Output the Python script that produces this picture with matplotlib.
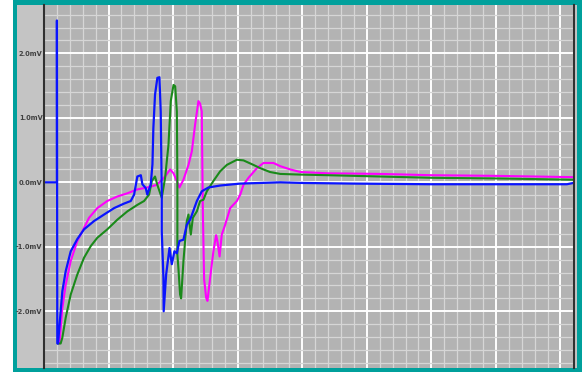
import numpy as np
from matplotlib import pyplot as plt
from matplotlib.patches import Rectangle
from matplotlib.ticker import MultipleLocator, FixedLocator

# time in grid divisions, voltage in mV
blue_x = [0, 1.0, 1.0, 1.03, 1.09, 1.29, 1.42, 1.68, 2.07, 2.58, 3.10, 3.88, 4.65, 5.43, 6.20,
          6.72, 6.98, 7.23, 7.50, 7.62, 7.88, 8.0, 8.27, 8.40, 8.47, 8.6, 8.78, 8.94, 9.04,
          9.12, 9.12, 9.25, 9.27, 9.46, 9.72, 9.9, 10.1, 10.29, 10.49, 10.8, 11.06, 11.32,
          11.84, 12.22, 12.74, 13.64, 15.2, 18.3, 20.0, 24.0, 30.0, 36.0, 40.5, 41.0]
blue_y = [0, 0, 2.51, -2.50, -2.50, -2.0, -1.69, -1.38, -1.07, -0.88, -0.73, -0.60, -0.50,
          -0.40, -0.33, -0.29, -0.19, 0.09, 0.11, -0.03, -0.09, -0.19, -0.03, 0.28, 0.84,
          1.36, 1.62, 1.63, 1.10, -0.19, -0.76, -1.48, -2.0, -1.43, -1.02, -1.27, -1.07,
          -1.10, -0.91, -0.89, -0.66, -0.58, -0.29, -0.14, -0.08, -0.05, -0.02, 0.0, -0.01,
          -0.02, -0.03, -0.03, -0.03, -0.01]

green_x = [1.09, 1.29, 1.42, 1.68, 2.07, 2.58, 3.10, 3.62, 4.13, 4.9, 5.68, 6.46, 7.23, 7.75,
           8.14, 8.35, 8.6, 8.78, 9.12, 9.38, 9.64, 9.82, 10.03, 10.16, 10.29, 10.33, 10.33,
           10.41, 10.54, 10.62, 10.8, 11.06, 11.19, 11.37, 11.53, 11.84, 12.09, 12.35, 12.61,
           13.12, 13.64, 14.16, 14.94, 15.45, 16.22, 16.74, 17.5, 18.3, 19.8, 22.0, 26.05,
           30.0, 35.0, 41.0]
green_y = [-2.50, -2.50, -2.41, -2.1, -1.74, -1.43, -1.17, -0.99, -0.86, -0.73, -0.58, -0.45,
           -0.35, -0.29, -0.19, 0.02, 0.09, -0.04, -0.24, 0.07, 0.58, 1.26, 1.51, 1.49, 1.10,
           0.07, -1.12, -1.33, -1.74, -1.80, -1.22, -0.60, -0.50, -0.81, -0.55, -0.45, -0.29,
           -0.27, -0.14, 0.02, 0.17, 0.27, 0.35, 0.34, 0.27, 0.22, 0.16, 0.13, 0.12, 0.11,
           0.09, 0.07, 0.06, 0.04]

magenta_x = [1.13, 1.21, 1.42, 1.68, 2.07, 2.58, 2.97, 3.49, 4.13, 4.9, 5.68, 6.46, 7.23, 8.0,
             8.73, 9.38, 9.77, 10.03, 10.29, 10.49, 10.8, 11.19, 11.45, 11.7, 11.96, 12.09,
             12.22, 12.3, 12.4, 12.56, 12.66, 12.87, 13.12, 13.33, 13.43, 13.6, 13.77, 14.03,
             14.42, 14.94, 15.2, 15.45, 15.84, 16.49, 17.0, 17.77, 18.3, 19.07, 19.85, 21.9,
             26.05, 30.0, 35.0, 41.0]
magenta_y = [-2.50, -2.46, -1.95, -1.59, -1.22, -0.91, -0.76, -0.55, -0.40, -0.29, -0.22,
             -0.17, -0.11, -0.08, -0.04, 0.09, 0.20, 0.14, 0.02, -0.08, 0.04, 0.27, 0.48,
             0.89, 1.26, 1.22, 1.10, -0.40, -1.50, -1.79, -1.84, -1.48, -1.07, -0.82, -0.91,
             -1.15, -0.81, -0.66, -0.40, -0.29, -0.19, -0.04, 0.07, 0.22, 0.30, 0.30, 0.25,
             0.20, 0.16, 0.14, 0.13, 0.11, 0.10, 0.08]

y_ticks = [2.0, 1.0, 0.0, -1.0, -2.0]
y_labels = ['2.0mV', '1.0mV', '0.0mV', '-1.0mV', '-2.0mV']

W, H = 582, 372
fig = plt.figure(figsize=(W / 100, H / 100), dpi=100)
fig.patch.set_facecolor('white')

# teal frame and light gray panel behind the plot
fig.patches.append(Rectangle((13 / W, 0), 569 / W, 1, transform=fig.transFigure,
                             facecolor='#00a09c', edgecolor='none', zorder=-10))
fig.patches.append(Rectangle((17 / W, 4 / H), 560 / W, 363 / H, transform=fig.transFigure,
                             facecolor='#c4c4c4', edgecolor='none', zorder=-9))

ax = fig.add_axes([44 / W, 4 / H, 530 / W, 363 / H])
ax.set_facecolor('#b3b3b3')
ax.set_xlim(0, 41.05)
ax.set_ylim(-2.88, 2.75)

ax.xaxis.set_major_locator(MultipleLocator(5))
ax.xaxis.set_minor_locator(MultipleLocator(1))
ax.yaxis.set_major_locator(FixedLocator(y_ticks))
ax.yaxis.set_minor_locator(MultipleLocator(0.2))
ax.grid(which='minor', color='#d6d6d6', linewidth=0.9)
ax.grid(which='major', color='white', linewidth=1.4)
ax.set_axisbelow(True)

ax.set_yticklabels(y_labels, fontsize=4.8, color='#404040', fontweight='bold')
ax.set_xticklabels([])
ax.tick_params(which='both', length=0, pad=1)

for side in ['top', 'bottom']:
    ax.spines[side].set_visible(False)
for side in ['left', 'right']:
    ax.spines[side].set_color('#303030')
    ax.spines[side].set_linewidth(1.5)

ax.plot(magenta_x, magenta_y, color='#ff00ff', linewidth=1.5)
ax.plot(green_x, green_y, color='#1a8a1a', linewidth=1.5)
ax.plot(blue_x, blue_y, color='#0a14ff', linewidth=1.6)

fig.savefig('out.png', dpi=100, facecolor=fig.get_facecolor())
